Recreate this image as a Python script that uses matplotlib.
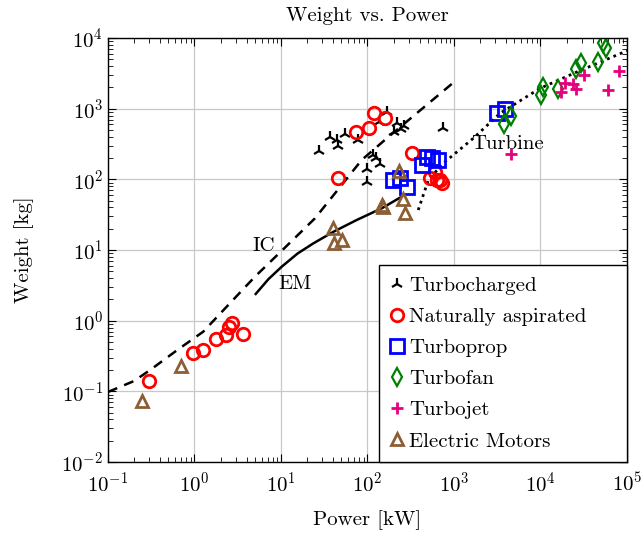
import matplotlib
matplotlib.use('Agg')
import matplotlib.pyplot as plt

plt.rcParams['font.family'] = 'serif'
plt.rcParams['font.serif'] = ['cmr10']
plt.rcParams['mathtext.fontset'] = 'cm'
plt.rcParams['axes.formatter.use_mathtext'] = True
plt.rcParams['axes.unicode_minus'] = False

# data (power in kW, weight in kg)
turbocharged_p = [27.5, 36.8, 44.4, 45.6, 55, 77.6, 116, 125, 140, 100, 100,
                  136, 168, 219, 202, 244, 264, 746]
turbocharged_w = [252, 397, 361, 297, 439, 361, 221, 200, 165, 140, 92,
                  647, 898, 627, 468, 515, 569, 532]

aspirated_p = [0.30, 0.97, 1.26, 1.76, 2.31, 2.52, 2.73, 3.61,
               45.2, 73.1, 104, 119, 159, 330, 528, 603, 631, 689, 721]
aspirated_w = [0.14, 0.352, 0.385, 0.551, 0.627, 0.822, 0.918, 0.647,
               103, 472, 538, 859, 731, 233, 103, 128, 98, 98, 89.6]

turboprop_p = [423, 482, 551, 657, 199, 238, 284, 3120, 3890]
turboprop_w = [160, 209, 199, 188, 98, 103, 78.7, 859, 979]

turbofan_p = [3780, 4560, 10100, 10800, 16100, 25700, 29100, 46600, 53200, 56700]
turbofan_w = [601, 787, 1560, 2050, 1880, 3600, 4390, 4530, 8590, 7140]

turbojet_p = [4560, 17100, 19200, 23900, 25700, 31900, 60800, 81500]
turbojet_w = [226, 1740, 2290, 2210, 1880, 2990, 1840, 3440]

electric_p = [0.249, 0.703, 39.6, 41.4, 50.4, 146, 152, 231, 259, 272]
electric_w = [0.074, 0.229, 20.7, 12.7, 13.9, 43.4, 41.1, 131, 52.1, 33.7]

# trend lines
ic_p = [0.1, 0.2, 0.306, 0.65, 1.26, 2.46, 5.0, 10.2, 24.7, 85.7, 167, 1000]
ic_w = [0.098, 0.14, 0.200, 0.394, 0.698, 1.67, 4.2, 9.77, 28.1, 188, 381, 2380]

em_p = [5.1, 7.2, 10.2, 15.5, 23.6, 40, 75, 146, 248]
em_w = [2.39, 3.9, 5.81, 8.9, 12.4, 18.0, 26.6, 38.9, 56.8]

turbine_p = [386, 505, 752, 1670, 3400, 9870, 26200, 100000]
turbine_w = [36.8, 98, 169, 381, 859, 1940, 3300, 6600]

BROWN = '#8B5E34'
FS = 15

fig = plt.figure(figsize=(6.44, 5.34), dpi=100)
ax = fig.add_axes([0.1677, 0.1348, 0.8059, 0.794])

ax.plot(ic_p, ic_w, color='black', lw=1.8, linestyle=(0, (4, 3)))
ax.plot(em_p, em_w, color='black', lw=1.8)
ax.plot(turbine_p, turbine_w, color='black', lw=2.0, linestyle=(0, (1, 1.5)))

ax.plot(turbocharged_p, turbocharged_w, linestyle='none', marker='2', ms=9,
        mew=1.6, color='black', label='Turbocharged')
ax.plot(aspirated_p, aspirated_w, linestyle='none', marker='o', ms=9,
        mew=2, mfc='none', mec='red', label='Naturally aspirated')
ax.plot(turboprop_p, turboprop_w, linestyle='none', marker='s', ms=10,
        mew=2, mfc='none', mec='blue', label='Turboprop')
ax.plot(turbofan_p, turbofan_w, linestyle='none', marker='d', ms=9,
        mew=1.6, mfc='none', mec='green', label='Turbofan')
ax.plot(turbojet_p, turbojet_w, linestyle='none', marker='+', ms=9,
        mew=2, color='#e6007e', label='Turbojet')
ax.plot(electric_p, electric_w, linestyle='none', marker='^', ms=8,
        mew=2, mfc='none', mec=BROWN, label='Electric Motors')

ax.text(6.35, 11.4, 'IC', fontsize=FS, ha='center', va='center')
ax.text(14.5, 3.3, 'EM', fontsize=FS, ha='center', va='center')
ax.text(4.2e3, 3.16e2, 'Turbine', fontsize=FS, ha='center', va='center')

ax.set_xscale('log')
ax.set_yscale('log')
ax.set_xlim(1e-1, 1e5)
ax.set_ylim(1e-2, 1e4)
ax.set_xticks([1e-1, 1e0, 1e1, 1e2, 1e3, 1e4, 1e5])
ax.set_yticks([1e-2, 1e-1, 1e0, 1e1, 1e2, 1e3, 1e4])

ax.grid(True, which='major', color='#c8c8c8', lw=0.9)
ax.set_axisbelow(True)
ax.tick_params(which='both', direction='in', top=True, right=True, labelsize=FS)
ax.tick_params(which='major', length=6, width=0.8)
ax.tick_params(which='minor', length=3.5, width=0.6)
ax.tick_params(axis='x', which='major', pad=7)
for s in ax.spines.values():
    s.set_linewidth(1.0)

ax.text(0.5, 1 + 22 / 424.0, 'Weight vs. Power', fontsize=FS,
        ha='center', va='center', transform=ax.transAxes)
ax.set_xlabel('Power [kW]', fontsize=FS, labelpad=10)
ax.set_ylabel('Weight [kg]', fontsize=FS, labelpad=20)

leg_x0 = (379 - 108) / 519.0
leg = ax.legend(loc='lower left', bbox_to_anchor=(leg_x0, 0, 1 - leg_x0, 0.5),
                mode='expand', borderaxespad=0, fontsize=FS, frameon=True,
                fancybox=False, edgecolor='black', framealpha=1,
                handlelength=0.6, handletextpad=0.3, labelspacing=0.6,
                borderpad=0.55)
leg.get_frame().set_linewidth(1.0)

fig.savefig('out.png', dpi=100)
